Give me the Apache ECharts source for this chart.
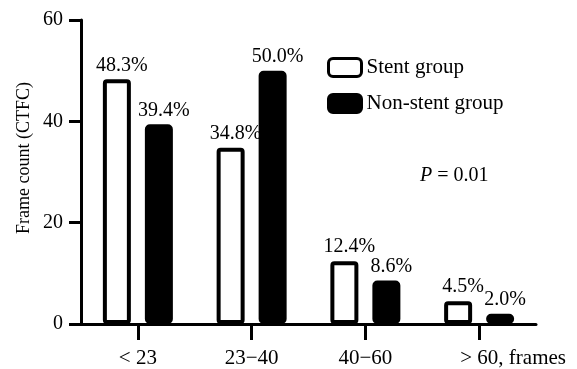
<!DOCTYPE html>
<html>
<head>
<meta charset="utf-8">
<style>
  html, body { margin: 0; padding: 0; background: #fff; }
  #chart { width: 577px; height: 369px; }
</style>
<script src="https://cdn.jsdelivr.net/npm/echarts@6/dist/echarts.min.js"></script>
</head>
<body>
<div id="chart"></div>
<script>
// Frame count groups (CTFC)
const categories = ['< 23', '23\u221240', '40\u221260', '> 60, frames'];
const stentGroup = [48.3, 34.8, 12.4, 4.5];
const nonStentGroup = [39.4, 50.0, 8.6, 2.0];

const FONT = 'Liberation Serif';

const chart = echarts.init(document.getElementById('chart'), null, { renderer: 'canvas' });

function pctLabel() {
  return {
    show: true,
    position: 'top',
    distance: 4,
    offset: [5, 0],
    color: '#000',
    fontFamily: FONT,
    fontSize: 20,
    fontWeight: 'normal',
    formatter: p => Number(p.value).toFixed(1) + '%'
  };
}

chart.setOption({
  animation: false,
  textStyle: { fontFamily: FONT, color: '#000' },
  grid: { left: 81, right: 41, top: 20, bottom: 44 },
  legend: {
    orient: 'vertical',
    left: 322,
    top: 52,
    itemWidth: 33,
    itemHeight: 18,
    itemGap: 15,
    icon: 'roundRect',
    itemStyle: { borderWidth: 3, borderColor: '#000' },
    textStyle: { color: '#000', fontFamily: FONT, fontSize: 21 },
    data: ['Stent group', 'Non-stent group']
  },
  xAxis: {
    type: 'category',
    data: categories,
    boundaryGap: true,
    axisLine: { show: true, lineStyle: { color: '#000', width: 3 } },
    axisTick: { show: true, alignWithLabel: true, length: 16, lineStyle: { color: '#000', width: 3 } },
    axisLabel: {
      color: '#000',
      fontFamily: FONT,
      fontSize: 21,
      margin: 24,
      interval: 0,
      formatter: v => v.indexOf(',') >= 0 ? '{pad|}' + v : v,
      rich: { pad: { width: 68 } }
    }
  },
  yAxis: {
    type: 'value',
    min: 0,
    max: 60,
    interval: 20,
    splitLine: { show: false },
    axisLine: { show: true, lineStyle: { color: '#000', width: 3 } },
    axisTick: { show: true, length: 12, lineStyle: { color: '#000', width: 3 } },
    axisLabel: {
      color: '#000',
      fontFamily: FONT,
      fontSize: 20,
      margin: 18
    }
  },
  graphic: [
    {
      type: 'text',
      x: 24,
      y: 158,
      rotation: Math.PI / 2,
      style: {
        text: 'Frame count (CTFC)',
        fill: '#000',
        fontFamily: FONT,
        fontSize: 18,
        align: 'center',
        verticalAlign: 'middle'
      }
    },
    {
      type: 'text',
      x: 420,
      y: 176,
      style: {
        text: '{i|P} = 0.01',
        fill: '#000',
        fontFamily: FONT,
        fontSize: 20,
        verticalAlign: 'middle',
        rich: {
          i: { fontStyle: 'italic', fontFamily: FONT, fontSize: 20, fill: '#000' }
        }
      }
    }
  ],
  series: [
    {
      name: 'Stent group',
      type: 'bar',
      data: stentGroup,
      barWidth: 28,
      barGap: '50%',
      itemStyle: { color: '#fff', borderColor: '#000', borderWidth: 4, borderRadius: 2 },
      label: pctLabel()
    },
    {
      name: 'Non-stent group',
      type: 'bar',
      data: nonStentGroup,
      barWidth: 28,
      itemStyle: { color: '#000', borderColor: '#000', borderWidth: 4, borderRadius: 3 },
      label: pctLabel()
    }
  ]
});
</script>
</body>
</html>
